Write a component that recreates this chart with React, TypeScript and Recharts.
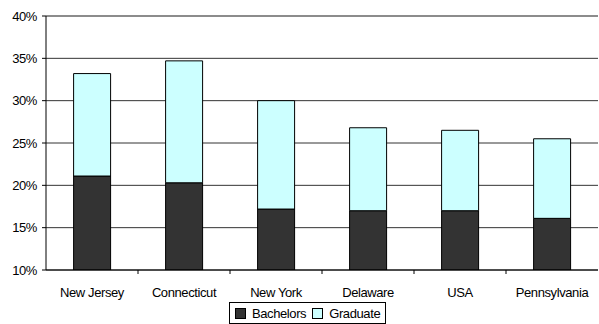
import { BarChart, Bar, XAxis, YAxis, Legend, CartesianGrid, ReferenceLine } from 'recharts';

const states = ['New Jersey', 'Connecticut', 'New York', 'Delaware', 'USA', 'Pennsylvania'];
const bachelors = [21.1, 20.3, 17.2, 17.0, 17.0, 16.1];
const graduate = [12.1, 14.4, 12.8, 9.8, 9.5, 9.4];
const yTicks = [10, 15, 20, 25, 30, 35, 40];

const data = states.map((name, i) => ({ name, bachelors: bachelors[i], graduate: graduate[i] }));

const FONT = '"Liberation Sans", Arial, sans-serif';

// label under each category, plus the little tick at the right edge of the band
const StateTick = (props: any) => {
  const { x, y, payload, index, width, visibleTicksCount } = props;
  const step = width / visibleTicksCount;
  return (
    <g>
      {index < visibleTicksCount - 1 && (
        <line x1={x + step / 2} x2={x + step / 2} y1={y - 8} y2={y - 4} stroke="#000" />
      )}
      <text x={x} y={y + 19} textAnchor="middle" fontSize={13} fill="#000" fontFamily={FONT} letterSpacing={-0.4}>
        {payload.value}
      </text>
    </g>
  );
};

const LegendBox = () => (
  <div style={{
    border: '1px solid #000', display: 'flex', alignItems: 'center', gap: 6, padding: '2px 5px',
    fontFamily: FONT, fontSize: 13, letterSpacing: -0.4, background: '#fff', boxSizing: 'border-box', height: 22,
  }}>
    <span style={{ width: 9, height: 9, background: '#333333', border: '1px solid #000', display: 'inline-block' }} />
    <span>Bachelors</span>
    <span style={{ width: 9, height: 9, background: '#CCFFFF', border: '1px solid #000', display: 'inline-block' }} />
    <span>Graduate</span>
  </div>
);

export default function App() {
  return (
    <div style={{ position: 'absolute', left: 0, top: 0, background: '#fff' }}>
      <BarChart width={599} height={324} data={data} margin={{ top: 16, right: 1, left: 0, bottom: 24 }} barCategoryGap="30%">
        <CartesianGrid vertical={false} stroke="#333" strokeDasharray="" />
        <ReferenceLine y={40} stroke="#888" strokeWidth={1.5} />
        <XAxis dataKey="name" interval={0} height={30} axisLine={{ stroke: '#000' }} tickLine={false} tick={<StateTick />} />
        <YAxis
          width={46}
          domain={[10, 40]}
          ticks={yTicks}
          allowDataOverflow
          tickFormatter={(v: number) => `${v}%`}
          tickSize={4}
          tickMargin={5}
          axisLine={{ stroke: '#000' }}
          tickLine={{ stroke: '#000' }}
          tick={{ fontSize: 13, fill: '#000', fontFamily: FONT, letterSpacing: -0.4 }}
        />
        <Legend verticalAlign="middle" content={<LegendBox />} wrapperStyle={{ top: 302, left: 229, width: 'auto' }} />
        <Bar dataKey="bachelors" name="Bachelors" stackId="a" fill="#333333" stroke="#000" isAnimationActive={false} />
        <Bar dataKey="graduate" name="Graduate" stackId="a" fill="#CCFFFF" stroke="#000" isAnimationActive={false} />
      </BarChart>
    </div>
  );
}
